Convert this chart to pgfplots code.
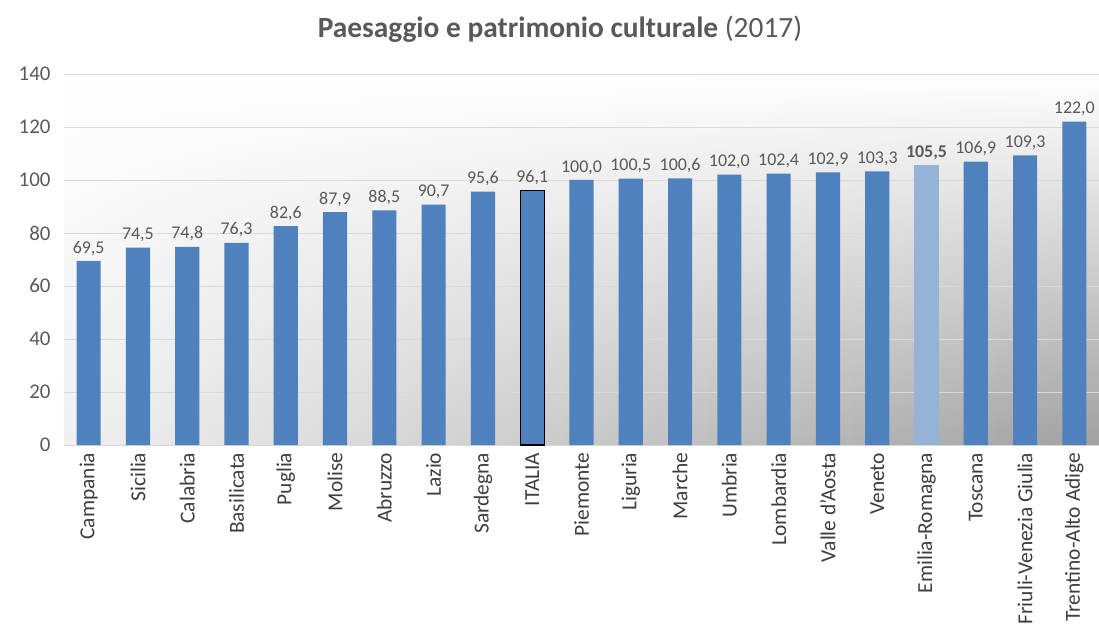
\documentclass[border=0pt]{standalone}
\usepackage{pgfplots}
\pgfplotsset{compat=1.18}
\usetikzlibrary{fadings}
\usepackage{fontspec}
\setmainfont{Carlito}
\definecolor{barblue}{HTML}{4F81BD}
\definecolor{barlight}{HTML}{95B3D7}
\definecolor{txtgray}{HTML}{595959}
\definecolor{gridgray}{HTML}{D9D9D9}
\begin{document}
\begin{tikzpicture}
\begin{axis}[
    scale only axis,
    width=1035bp, height=371bp,
    ymin=0, ymax=140,
    xmin=-0.5, xmax=20.5,
    ytick={0,20,...,140},
    ymajorgrids,
    grid style={gridgray, line width=0.8pt},
    axis x line*=bottom,
    axis y line*=left,
    y axis line style={draw=none},
    x axis line style={gridgray, line width=0.8pt},
    major tick style={draw=none},
    axis background/.style={left color=gray!12, right color=gray!74, path fading=north},
    /pgf/number format/assume math mode=true,
    yticklabel style={font=\fontsize{21}{21}\selectfont, color=txtgray, xshift=-10bp},
    xtick={0,...,20},
    xticklabels={Campania, Sicilia, Calabria, Basilicata, Puglia, Molise, Abruzzo, Lazio, Sardegna, ITALIA, Piemonte, Liguria, Marche, Umbria, Lombardia, Valle d'Aosta, Veneto, Emilia-Romagna, Toscana, Friuli-Venezia Giulia, Trentino-Alto Adige},
    xticklabel style={rotate=90, anchor=east, font=\fontsize{21.5}{21.5}\selectfont, color=txtgray!70!black},
    ybar,
    bar width=0.49,
    nodes near coords={\pgfmathprintnumber[fixed, fixed zerofill, precision=1, use comma, assume math mode=true]{\pgfplotspointmeta}},
    every node near coord/.append style={font=\fontsize{18}{18}\selectfont, color=txtgray, yshift=2bp},
]
% regioni
\addplot[fill=barblue, draw=none, bar shift=0pt] coordinates {
    (0,69.5) (1,74.5) (2,74.8) (3,76.3) (4,82.6) (5,87.9) (6,88.5) (7,90.7) (8,95.6)
    (10,100.0) (11,100.5) (12,100.6) (13,102.0) (14,102.4) (15,102.9) (16,103.3)
    (18,106.9) (19,109.3) (20,122.0)
};
% Italia
\addplot[fill=barblue, draw=black, line width=1.2pt, bar shift=0pt] coordinates {(9,96.1)};
% Emilia-Romagna
\addplot[fill=barlight, draw=none, bar shift=0pt,
    every node near coord/.append style={font=\fontsize{18}{18}\selectfont\bfseries}] coordinates {(17,105.5)};
\end{axis}
\node[anchor=base, color=txtgray, font=\fontsize{29.5}{29.5}\selectfont] at ([xshift=496bp,yshift=36bp]current axis.north west)
    {\textbf{Paesaggio e patrimonio culturale} (2017)};
\pgfresetboundingbox
\path ([xshift=-64bp,yshift=-192bp]current axis.south west) rectangle ([yshift=74bp]current axis.north east);
\end{tikzpicture}
\end{document}
